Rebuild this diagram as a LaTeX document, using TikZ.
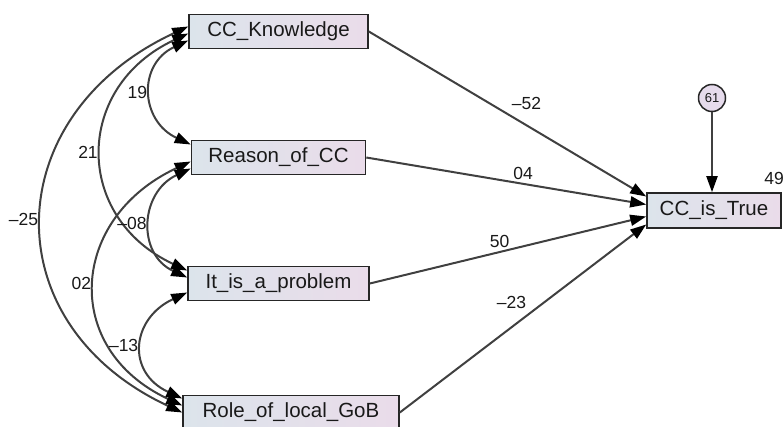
\documentclass[tikz,border=0pt]{standalone}
\usepackage{fontspec}
\setmainfont{Liberation Sans}
\usetikzlibrary{arrows.meta, positioning}

\definecolor{boxleft}{HTML}{DCE4EB}
\definecolor{boxright}{HTML}{EADCEA}
\definecolor{errfill}{HTML}{E6DBEC}

\begin{document}
\begin{tikzpicture}[
  x = 1pt, y = 1pt,
  > = {Triangle[length=16pt, width=11pt, color=black]}, % arrow head style
  auto, node distance = 126pt,           % distance between boxes
  line width = 2pt, color = black!75,
  font = \fontsize{17.5}{20}\selectfont
  ]

  \tikzstyle{V1}=[      % Defines style for observed variables
  rectangle, draw = black!85,
  line width = 1.6pt,
  left color = boxleft, right color = boxright,
  minimum height = 34pt, inner sep = 0pt,
  text = black!90,
  font = \fontsize{20.5}{24}\selectfont
  ]

  \tikzstyle{E1}=[      % Defines style for the error term
  circle, draw = black!85,
  line width = 1.5pt,
  fill = errfill,
  minimum size = 27pt, inner sep = 0pt,
  text = black!90,
  font = \fontsize{13}{15}\selectfont
  ]

  \useasboundingbox (0,0) rectangle (784,426);

  % Predictors, stacked on the left
  \node[V1, minimum width=179pt] (know) at (278.5,394.5) {CC\_Knowledge};
  \node[V1, minimum width=174pt] (reason) [below of=know] {Reason\_of\_CC};
  \node[V1, minimum width=181pt] (problem) [below of=reason] {It\_is\_a\_problem};
  \node[V1, minimum width=216pt] (role) [below of=problem, xshift=12.5pt, yshift=-3pt] {Role\_of\_local\_GoB};

  % Outcome with its error term
  \node[V1, minimum width=134pt, minimum height=35pt] (true) at (714,215.5) {CC\_is\_True};
  \node[E1] (err) at (712,328) {61};
  \node[text=black!90] (rsq) at (774,248) {49};

  % Regression weights
  \path[->] (know.east) edge node[above right, pos=0.5, text=black!90] {–52} ([yshift=14pt]true.west);
  \path[->] (reason.east) edge node[above, pos=0.56, text=black!90] {04} ([yshift=6pt]true.west);
  \path[->] (problem.east) edge node[above, pos=0.47, text=black!90] {50} ([yshift=-6pt]true.west);
  \path[->] (role.east) edge node[above left, pos=0.53, text=black!90] {–23} ([yshift=-14pt]true.west);
  \path[->] (err) edge (err |- true.north);

  % Correlations between predictors
  \path[<->] ([yshift=-9pt]know.west) edge[out=205, in=155, distance=56pt] node[left, text=black!90] {19} ([yshift=13pt]reason.west);
  \path[<->] ([yshift=-2pt]know.west) edge[out=205, in=155, distance=126pt] node[left, text=black!90] {21} ([yshift=13pt]problem.west);
  \path[<->] ([yshift=5pt]know.west) edge[out=205, in=155, distance=210pt] node[left, text=black!90] {–25} (role.west);
  \path[<->] ([yshift=-11pt]reason.west) edge[out=205, in=155, distance=56pt] node[left, text=black!90] {–08} ([yshift=6pt]problem.west);
  \path[<->] ([yshift=-4pt]reason.west) edge[out=205, in=155, distance=134pt] node[left, text=black!90] {02} ([yshift=7pt]role.west);
  \path[<->] ([yshift=-9pt]problem.west) edge[out=205, in=155, distance=62pt] node[left, text=black!90] {–13} ([yshift=14pt]role.west);
\end{tikzpicture}
\end{document}
